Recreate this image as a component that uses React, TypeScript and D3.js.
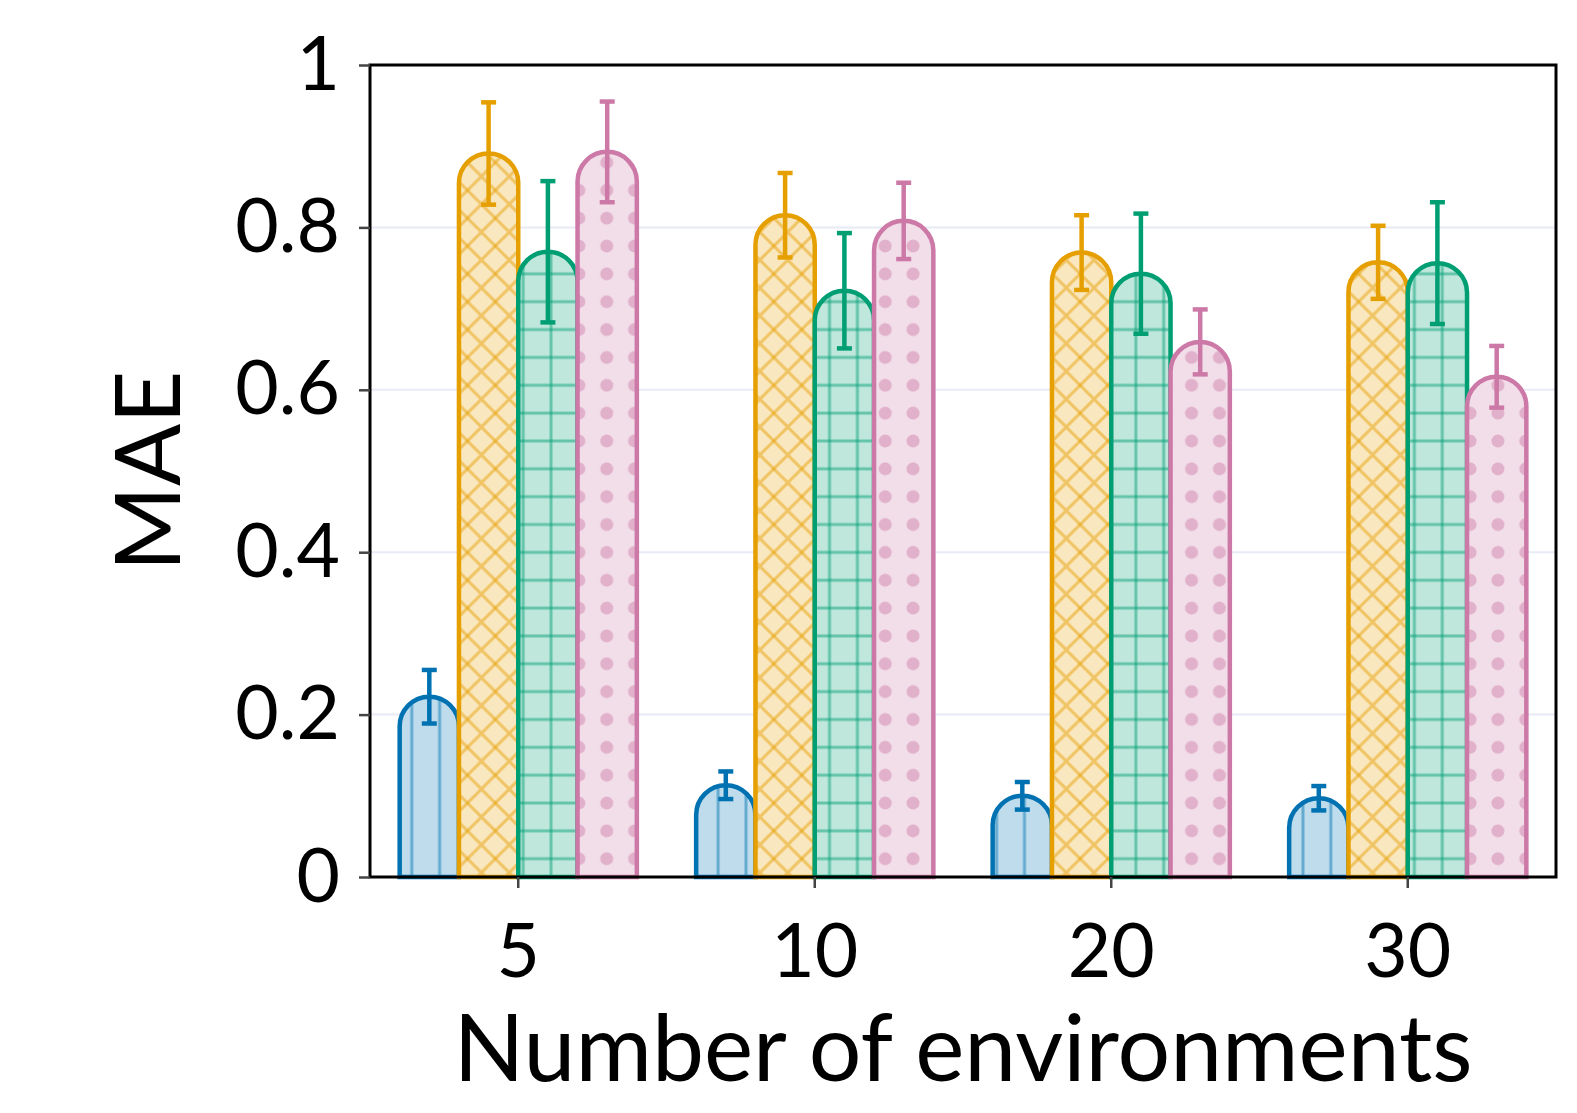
import * as d3 from "d3";
import { useRef, useEffect } from "react";

const envs = ["5", "10", "20", "30"];
const seriesNames = ["blue", "orange", "green", "pink"];
const seriesColors = ["#0072B2", "#E69F00", "#009E73", "#CC79A7"];
const seriesPatterns = ["vline", "cross", "grid", "dot"];

const meanBlue = [0.222, 0.113, 0.1, 0.097];
const errBlue = [0.033, 0.017, 0.017, 0.015];
const meanOrange = [0.891, 0.815, 0.769, 0.757];
const errOrange = [0.063, 0.052, 0.046, 0.045];
const meanGreen = [0.77, 0.722, 0.743, 0.756];
const errGreen = [0.087, 0.071, 0.074, 0.075];
const meanPink = [0.893, 0.808, 0.659, 0.616];
const errPink = [0.062, 0.047, 0.04, 0.038];

const yTicks = [0, 0.2, 0.4, 0.6, 0.8, 1];
const gridTicks = [0.2, 0.4, 0.6, 0.8];

const means = [meanBlue, meanOrange, meanGreen, meanPink];
const errs = [errBlue, errOrange, errGreen, errPink];

const width = 1577;
const height = 1113;
const marginLeft = 370;
const marginRight = 21;
const marginTop = 65;
const marginBottom = 236;
const font = "Lato, 'Noto Sans', sans-serif";
const tile = 27.85;

// pale fill = colour at 25% over white
function tint(c: string, a: number) {
  const rgb = d3.rgb(c);
  return d3.rgb(
    255 - a * (255 - rgb.r),
    255 - a * (255 - rgb.g),
    255 - a * (255 - rgb.b)
  ).formatHex();
}

function barPath(x0: number, x1: number, yt: number, yb: number) {
  const r = (x1 - x0) / 2;
  const p = d3.path();
  p.moveTo(x0, yb);
  p.lineTo(x0, yt + r);
  p.arc(x0 + r, yt + r, r, Math.PI, 2 * Math.PI);
  p.lineTo(x1, yb);
  p.closePath();
  return p.toString();
}

function Pattern({ id, kind, color }: { id: string; kind: string; color: string }) {
  const bg = tint(color, 0.25);
  const s = tile;
  return (
    <pattern
      id={id}
      patternUnits="userSpaceOnUse"
      x={marginLeft}
      y={marginTop}
      width={s}
      height={s}
    >
      <rect width={s} height={s} fill={bg} />
      <g stroke={color} strokeOpacity={0.48} fill={color} fillOpacity={0.45} strokeWidth={3}>
        {kind === "vline" && <line x1={s / 2} y1={0} x2={s / 2} y2={s} />}
        {kind === "cross" && (
          <>
            <line x1={-1} y1={-1} x2={s + 1} y2={s + 1} />
            <line x1={s + 1} y1={-1} x2={-1} y2={s + 1} />
          </>
        )}
        {kind === "grid" && (
          <>
            <line x1={s / 2} y1={0} x2={s / 2} y2={s} />
            <line x1={0} y1={s / 2} x2={s} y2={s / 2} />
          </>
        )}
        {kind === "dot" && <circle cx={s / 2} cy={s / 2} r={6.5} stroke="none" />}
      </g>
    </pattern>
  );
}

export default function App() {
  const gx = useRef<SVGGElement | null>(null);
  const gy = useRef<SVGGElement | null>(null);

  const x = d3
    .scaleBand()
    .domain(envs)
    .range([marginLeft, width - marginRight])
    .padding(0);

  const inner = d3
    .scaleBand()
    .domain(seriesNames)
    .range([0.1 * x.bandwidth(), 0.9 * x.bandwidth()])
    .padding(0);

  const y = d3
    .scaleLinear()
    .domain([0, 1])
    .range([height - marginBottom, marginTop]);

  useEffect(() => {
    if (gx.current) {
      d3.select(gx.current)
        .call(d3.axisBottom(x).tickSize(11).tickPadding(36))
        .call((g) => g.select(".domain").remove())
        .call((g) => g.selectAll(".tick line").attr("stroke", "#444").attr("stroke-width", 2.5))
        .call((g) => g.selectAll(".tick text").attr("fill", "#000"))
        .attr("font-family", font)
        .attr("font-size", 75);
    }
  }, [gx, x]);

  useEffect(() => {
    if (gy.current) {
      d3.select(gy.current)
        .call(
          d3
            .axisLeft(y)
            .tickValues(yTicks)
            .tickFormat(d3.format("~g"))
            .tickSize(11)
            .tickPadding(19)
        )
        .call((g) => g.select(".domain").remove())
        .call((g) => g.selectAll(".tick line").attr("stroke", "#444").attr("stroke-width", 2.5))
        .call((g) => g.selectAll(".tick text").attr("fill", "#000"))
        .attr("font-family", font)
        .attr("font-size", 75);
    }
  }, [gy, y]);

  const y0 = y(0);

  return (
    <div>
      <style>{`body{margin:0}`}</style>
      <svg width={width} height={height} style={{ display: "block", background: "#fff" }}>
        <defs>
          {seriesNames.map((s, i) => (
            <Pattern key={s} id={`pat-${s}`} kind={seriesPatterns[i]} color={seriesColors[i]} />
          ))}
        </defs>
        <g stroke="#e8eaf5" strokeWidth={2}>
          {gridTicks.map((t) => (
            <line key={t} x1={marginLeft} x2={width - marginRight} y1={y(t)} y2={y(t)} />
          ))}
        </g>
        {seriesNames.map((s, i) => (
          <g key={s}>
            {envs.map((e, j) => {
              const x0 = (x(e) ?? 0) + (inner(s) ?? 0);
              const x1 = x0 + inner.bandwidth();
              return (
                <path
                  key={e}
                  d={barPath(x0, x1, y(means[i][j]), y0)}
                  fill={`url(#pat-${s})`}
                  stroke={seriesColors[i]}
                  strokeWidth={4.5}
                />
              );
            })}
            <g stroke={seriesColors[i]} strokeWidth={4.5}>
              {envs.map((e, j) => {
                const cx = (x(e) ?? 0) + (inner(s) ?? 0) + inner.bandwidth() / 2;
                const lo = y(means[i][j] - errs[i][j]);
                const hi = y(means[i][j] + errs[i][j]);
                return (
                  <g key={e}>
                    <line x1={cx} x2={cx} y1={lo} y2={hi} />
                    <line x1={cx - 7.5} x2={cx + 7.5} y1={lo} y2={lo} />
                    <line x1={cx - 7.5} x2={cx + 7.5} y1={hi} y2={hi} />
                  </g>
                );
              })}
            </g>
          </g>
        ))}
        <rect
          x={marginLeft}
          y={marginTop}
          width={width - marginLeft - marginRight}
          height={height - marginTop - marginBottom}
          fill="none"
          stroke="#000"
          strokeWidth={3}
        />
        <g ref={gx} transform={`translate(0,${y0})`} />
        <g ref={gy} transform={`translate(${marginLeft},0)`} />
        <text
          x={(marginLeft + width - marginRight) / 2}
          y={1081}
          textAnchor="middle"
          fontFamily={font}
          fontSize={93}
          fill="#000"
        >
          Number of environments
        </text>
        <text
          transform={`translate(180,${(marginTop + y0) / 2}) rotate(-90)`}
          textAnchor="middle"
          fontFamily={font}
          fontSize={92}
          fill="#000"
        >
          MAE
        </text>
      </svg>
    </div>
  );
}
